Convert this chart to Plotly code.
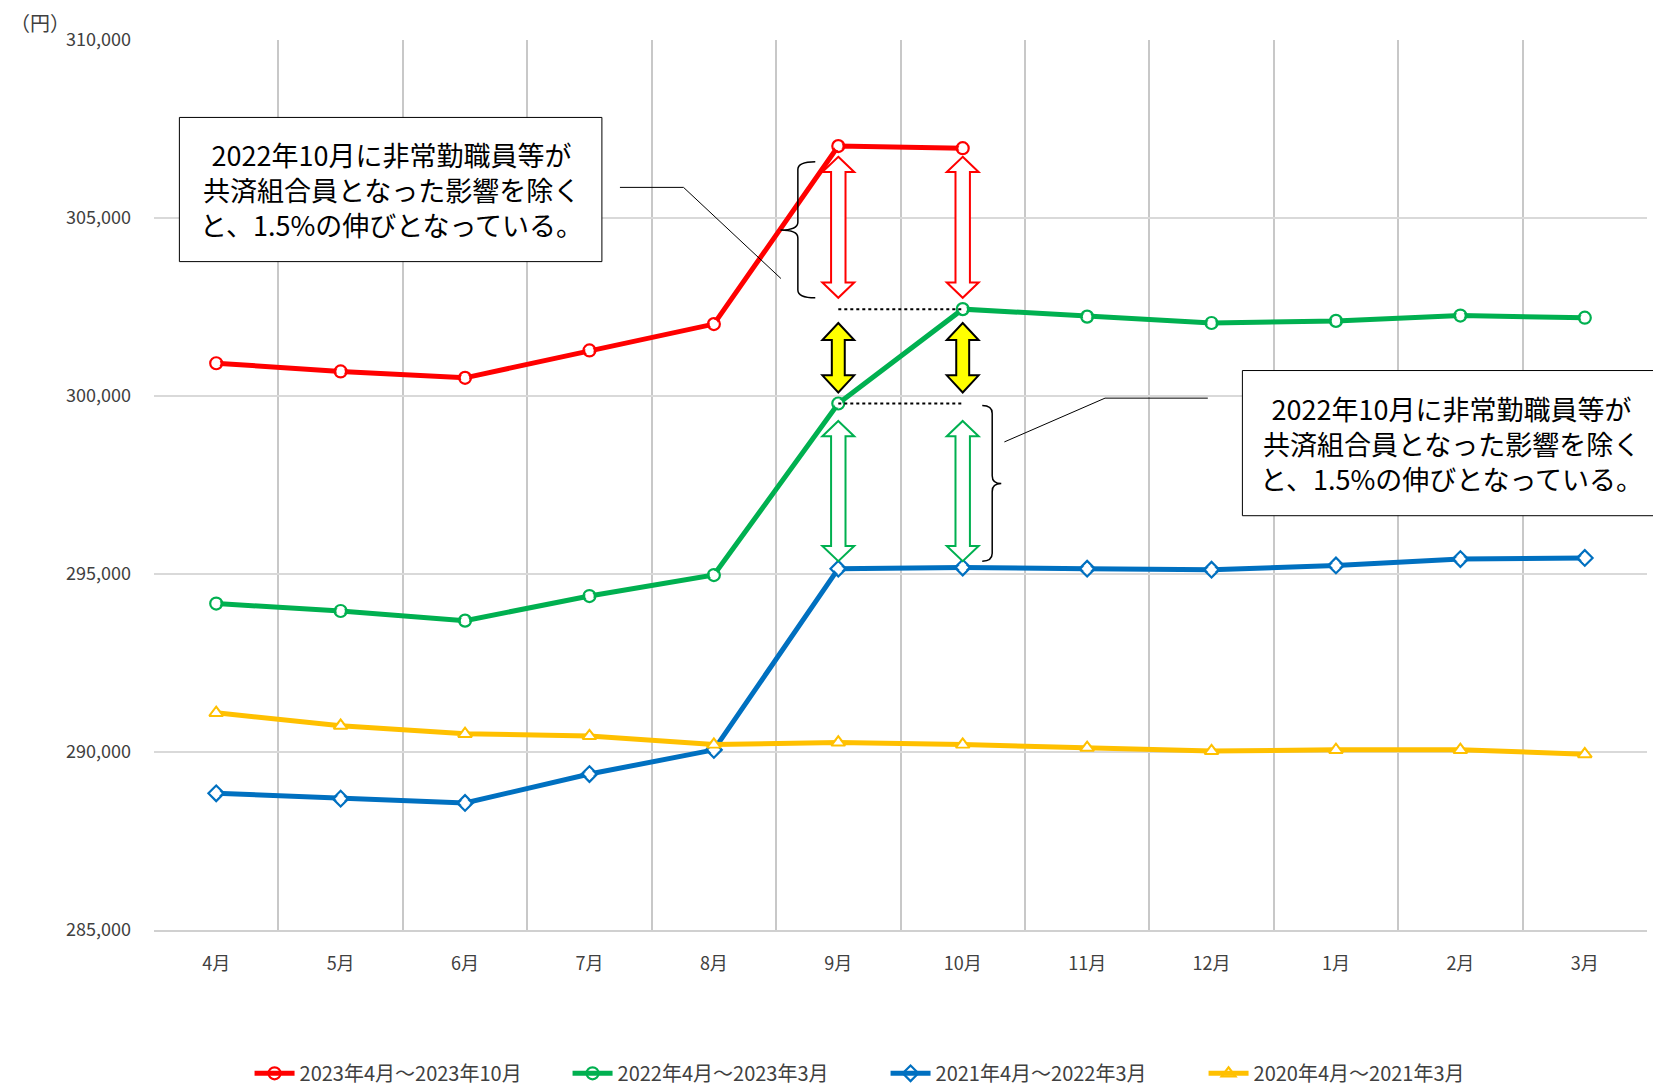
import plotly.graph_objects as go

months = ["4月", "5月", "6月", "7月", "8月", "9月", "10月", "11月", "12月", "1月", "2月", "3月"]

s2023_name = "2023年4月～2023年10月"
s2023 = [300920, 300690, 300510, 301280, 302020, 307020, 306960]

s2022_name = "2022年4月～2023年3月"
s2022 = [294170, 293960, 293690, 294380, 294970, 299790, 302440, 302230, 302050, 302110, 302260, 302200]

s2021_name = "2021年4月～2022年3月"
s2021 = [288840, 288690, 288570, 289380, 290060, 295150, 295180, 295150, 295120, 295240, 295420, 295450]

s2020_name = "2020年4月～2021年3月"
s2020 = [291100, 290740, 290510, 290450, 290210, 290270, 290210, 290120, 290030, 290060, 290060, 289940]

note_text = "2022年10月に非常勤職員等が<br>共済組合員となった影響を除く<br>と、1.5%の伸びとなっている。"

RED, GREEN, BLUE, YELLOW = "#FF0000", "#00B050", "#0070C0", "#FFC000"
FONT = "Noto Sans CJK JP"

xs = list(range(len(months)))

fig = go.Figure()
series = [
    (s2023_name, s2023, RED, "circle-open"),
    (s2022_name, s2022, GREEN, "circle-open"),
    (s2021_name, s2021, BLUE, "diamond-open"),
    (s2020_name, s2020, YELLOW, "triangle-up-open"),
]
for name, vals, col, sym in series:
    fig.add_trace(go.Scatter(
        x=xs[:len(vals)], y=vals, name=name, mode="lines+markers",
        line=dict(color=col, width=5),
        marker=dict(symbol=sym, size=12, color=col, line=dict(width=2.2, color=col)),
    ))
    # white inner fill for hollow markers
    fig.add_trace(go.Scatter(
        x=xs[:len(vals)], y=vals, mode="markers", showlegend=False, hoverinfo="skip",
        marker=dict(symbol=sym.replace("-open", ""), size=8.5, color="white"),
    ))

shapes = []

def darrow(cx, ytop, ybot, line_col, fill_col, hw=0.128, sw=0.058, hl=430):
    p = (f"M {cx},{ytop} L {cx+hw},{ytop-hl} L {cx+sw},{ytop-hl} L {cx+sw},{ybot+hl} "
         f"L {cx+hw},{ybot+hl} L {cx},{ybot} L {cx-hw},{ybot+hl} L {cx-sw},{ybot+hl} "
         f"L {cx-sw},{ytop-hl} L {cx-hw},{ytop-hl} Z")
    shapes.append(dict(type="path", xref="x", yref="y", path=p, fillcolor=fill_col,
                       line=dict(color=line_col, width=2), layer="above"))

i9, i10 = months.index("9月"), months.index("10月")
for cx in (i9, i10):
    darrow(cx, 306720, 302760, RED, "white")
    darrow(cx, 302050, 300100, "black", "#FFFF00", sw=0.052, hl=480)
    darrow(cx, 299300, 295360, GREEN, "white")

# dotted reference lines
for yv in (s2022[i10], s2022[i9]):
    shapes.append(dict(type="line", xref="x", yref="y", x0=i9, x1=i10, y0=yv, y1=yv,
                       line=dict(color="black", width=2, dash="dot")))

def brace(xe, xm, xt, yt, ytip, yb, r=220):
    p = (f"M {xe},{yt} Q {xm},{yt} {xm},{yt-r} L {xm},{ytip+r} Q {xm},{ytip} {xt},{ytip} "
         f"Q {xm},{ytip} {xm},{ytip-r} L {xm},{yb+r} Q {xm},{yb} {xe},{yb}")
    shapes.append(dict(type="path", xref="x", yref="y", path=p,
                       line=dict(color="black", width=1.5)))

brace(4.815, 4.675, 4.535, 306580, 304660, 302760)
brace(6.157, 6.237, 6.31, 299730, 297540, 295360)

# connector lines
shapes.append(dict(type="path", xref="x", yref="y",
                   path="M 3.245,305860 L 3.756,305860 L 4.539,303300",
                   line=dict(color="black", width=1)))
shapes.append(dict(type="path", xref="x", yref="y",
                   path="M 7.97,299940 L 7.144,299940 L 6.335,298710",
                   line=dict(color="black", width=1)))

# note boxes
shapes.append(dict(type="rect", xref="paper", yref="paper", x0=0.017, x1=0.300, y0=0.751, y1=0.913,
                   line=dict(color="black", width=1), fillcolor="white", layer="above"))
shapes.append(dict(type="rect", xref="paper", yref="paper", x0=0.729, x1=1.0085, y0=0.4655, y1=0.6286,
                   line=dict(color="black", width=1), fillcolor="white", layer="above"))

annotations = [
    dict(xref="paper", yref="paper", x=0.159, y=0.832, xanchor="center", yanchor="middle",
         text=note_text, showarrow=False,
         font=dict(family=FONT, size=27, color="black"), align="center"),
    dict(xref="paper", yref="paper", x=0.869, y=0.547, xanchor="center", yanchor="middle",
         text=note_text, showarrow=False,
         font=dict(family=FONT, size=27, color="black"), align="center"),
    dict(xref="paper", yref="paper", x=-0.0978, y=1.02, xanchor="left", yanchor="middle",
         text="（円）", showarrow=False,
         font=dict(family=FONT, size=20, color="#404040")),
]

fig.update_layout(
    width=1653, height=1078,
    margin=dict(l=146, r=14, t=32, b=156, autoexpand=False),
    paper_bgcolor="white", plot_bgcolor="white",
    font=dict(family=FONT, color="#595959"),
    shapes=shapes, annotations=annotations,
    showlegend=True,
    legend=dict(orientation="h", x=0.064, xanchor="left", y=-0.161, yanchor="middle",
                entrywidth=263, entrywidthmode="pixels",
                font=dict(family=FONT, size=20, color="#404040"), itemwidth=40),
    xaxis=dict(range=[-0.5, 11.5], tickmode="array", tickvals=xs, ticktext=months,
               showgrid=False, zeroline=False, showline=True, linecolor="#D0D0D0", linewidth=2,
               ticks="", ticklabelstandoff=16, tickfont=dict(size=18, color="#404040"),
               minor=dict(tickmode="array", tickvals=[v - 0.5 for v in xs] + [11.5],
                          showgrid=True, gridcolor="#C8C8C8", gridwidth=2, ticks="")),
    yaxis=dict(range=[285000, 310000], dtick=5000, tickformat=",", showgrid=True,
               gridcolor="#D9D9D9", gridwidth=2, zeroline=False, showline=False,
               ticks="", ticklabelstandoff=22, tickfont=dict(size=18, color="#404040")),
)

fig.write_html("out.html")
